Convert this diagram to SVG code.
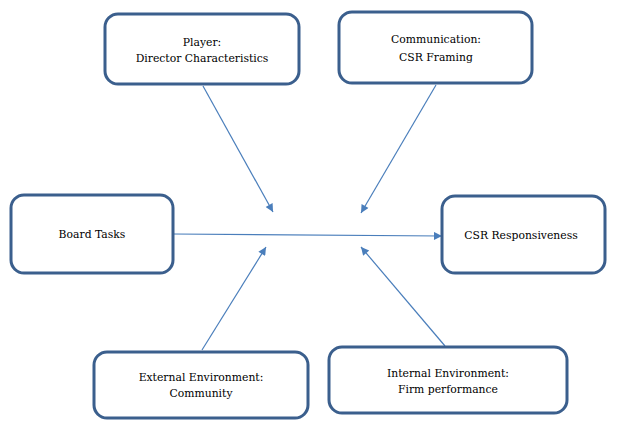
<svg xmlns="http://www.w3.org/2000/svg" width="617" height="430" viewBox="0 0 617 430">
<style>
.box{fill:#fff;stroke:#3b5f8d;stroke-width:3}
text{font-family:'DejaVu Serif', serif;font-size:10.8px;fill:#000;text-anchor:middle}
.c{stroke:#4a7ebb;stroke-width:1.2;fill:none;marker-end:url(#ah)}
</style>
<defs>
<marker id="ah" viewBox="0 0 10 10" refX="10" refY="5" markerWidth="10" markerHeight="8" markerUnits="userSpaceOnUse" orient="auto">
<path d="M0,0 L10,5 L0,10 z" fill="#4a7ebb"/>
</marker>
</defs>
<rect width="617" height="430" fill="#fff"/>
<g id="connectors">
<line class="c" x1="203" y1="86" x2="273" y2="212"/>
<line class="c" x1="436" y1="85" x2="361" y2="213"/>
<line class="c" x1="173" y1="234" x2="442" y2="236"/>
<line class="c" x1="202" y1="350" x2="266" y2="247"/>
<line class="c" x1="445" y1="346" x2="361" y2="247"/>
</g>
<g id="player">
<rect class="box" x="105" y="14" width="194" height="70" rx="13"/>
<text x="202" y="46">Player:</text>
<text x="202" y="62">Director Characteristics</text>
</g>
<g id="communication">
<rect class="box" x="339" y="12" width="193" height="71" rx="13"/>
<text x="436" y="43">Communication:</text>
<text x="436" y="61">CSR Framing</text>
</g>
<g id="board">
<rect class="box" x="11" y="195" width="162" height="78" rx="13"/>
<text x="92" y="238">Board  Tasks</text>
</g>
<g id="csr">
<rect class="box" x="442" y="196" width="163" height="77" rx="13"/>
<text x="521" y="239">CSR Responsiveness</text>
</g>
<g id="external">
<rect class="box" x="94" y="352" width="214" height="66" rx="13"/>
<text x="201" y="381">External  Environment:</text>
<text x="201" y="397">Community</text>
</g>
<g id="internal">
<rect class="box" x="329" y="347" width="238" height="66" rx="13"/>
<text x="448" y="377">Internal  Environment:</text>
<text x="448" y="393">Firm performance</text>
</g>
</svg>
